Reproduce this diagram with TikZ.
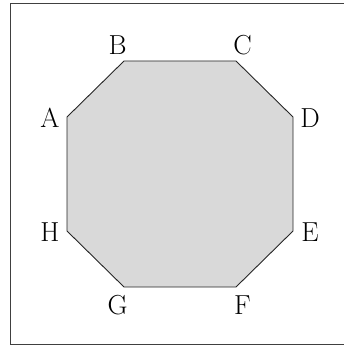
\documentclass[tikz,border=0pt]{standalone}
\begin{document}
\begin{tikzpicture}[x=1pt,y=-1pt,
  lbl/.style={inner sep=0pt,font=\fontsize{27.5}{32}\selectfont},
  oct/.style={draw=black!85,line width=0.9pt,fill=black!15,line join=miter},
  frame/.style={draw=black!75,line width=1pt}]
\useasboundingbox (0,0) rectangle (343,347);
\coordinate (f1) at (10,4);
\coordinate (f2) at (350,4);
\coordinate (f3) at (10,344);
\coordinate (f4) at (350,344);
\draw[frame] (f2) -- (f1) -- (f3) -- (f4);
\coordinate (A) at (67,117);
\coordinate (B) at (124,61);
\coordinate (C) at (236,61);
\coordinate (D) at (293,117);
\coordinate (E) at (293,231);
\coordinate (F) at (236,287);
\coordinate (G) at (124,287);
\coordinate (H) at (67,231);
\draw[oct] (A) -- (B) -- (C) -- (D) -- (E) -- (F) -- (G) -- (H) -- cycle;
\node[lbl] (lA) at (50,118) {A};
\node[lbl] (lB) at (117.5,45) {B};
\node[lbl] (lC) at (242.5,45) {C};
\node[lbl] (lD) at (310,118) {D};
\node[lbl] (lE) at (310,232) {E};
\node[lbl] (lF) at (242.5,305) {F};
\node[lbl] (lG) at (117.5,305) {G};
\node[lbl] (lH) at (50,232) {H};
\end{tikzpicture}
\end{document}
